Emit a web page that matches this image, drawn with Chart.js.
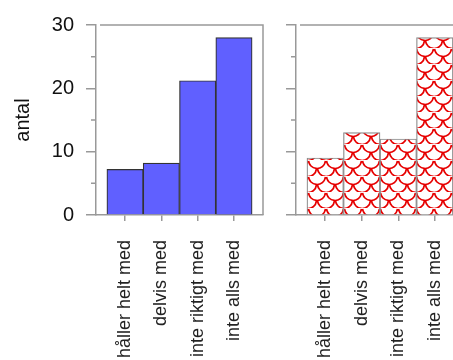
<!DOCTYPE html>
<html><head><meta charset="utf-8">
<script src="https://cdn.jsdelivr.net/npm/chart.js@4"></script>
<style>
html,body{margin:0;padding:0;background:#fff;overflow:hidden;width:453px;height:360px;}
#c1{position:absolute;left:0;top:0;}
#c2{position:absolute;left:200px;top:0;}
</style></head><body>
<canvas id="c1" width="280" height="360"></canvas>
<canvas id="c2" width="300" height="360"></canvas>
<script>
const categories = ['håller helt med', 'delvis med', 'inte riktigt med', 'inte alls med'];
const leftValues = [7.2, 8.2, 21.2, 28];
const rightValues = [9, 13, 12, 28];
const yMajorTicks = [0, 10, 20, 30];
const yMinorTicks = [5, 15, 25];
const yTitle = 'antal';

const FONT = "'Liberation Sans', Arial, Helvetica, sans-serif";
const AXIS = '#999';

function makePattern(){
  const t = document.createElement('canvas');
  t.width = 18; t.height = 16;
  const g = t.getContext('2d');
  g.fillStyle = '#fff'; g.fillRect(0,0,18,16);
  g.strokeStyle = '#e60000'; g.lineWidth = 1.7;
  const arcs = [[9,0],[0,8],[18,8],[9,16]];
  arcs.forEach(([cx,cy])=>{
    g.beginPath(); g.arc(cx, cy, 8.5, 0.1, Math.PI-0.1); g.stroke();
  });
  return t;
}

const framePlugin = {
  id:'frame',
  afterDraw(chart){
    const {ctx, chartArea:a} = chart;
    const y = chart.scales.y;
    ctx.save();
    ctx.strokeStyle = AXIS; ctx.lineWidth = 1.5;
    ctx.beginPath();
    ctx.moveTo(a.left + 4, a.top); ctx.lineTo(a.right, a.top); ctx.lineTo(a.right, a.bottom);
    ctx.stroke();
    ctx.beginPath();
    yMinorTicks.forEach(v=>{
      const py = y.getPixelForValue(v);
      ctx.moveTo(a.left - 5, py); ctx.lineTo(a.left, py);
    });
    ctx.stroke();
    ctx.restore();
  }
};

function makeConfig(values, bg, border, showY, rightPad){
  return {
    type:'bar',
    data:{ datasets:[{
      data: values.map((v,i)=>({x:i, y:v})),
      backgroundColor: bg, borderColor: border, borderWidth: 1.2,
      categoryPercentage:1, barPercentage:1
    }]},
    plugins:[framePlugin],
    options:{
      responsive:false, animation:false,
      layout:{padding:{top:25, right:rightPad, left:0, bottom:0}},
      plugins:{legend:{display:false}, tooltip:{enabled:false}},
      scales:{
        x:{
          type:'linear', min:-0.8, max:3.8, offset:false,
          afterBuildTicks: s => { s.ticks = categories.map((c,i)=>({value:i})); },
          afterFit: s => { s.height = 145; },
          ticks:{autoSkip:false, maxRotation:90, minRotation:90, padding:19,
                 font:{family:FONT, size:18}, color:'#222',
                 callback:(v)=>categories[v]},
          grid:{display:true, offset:false, drawOnChartArea:false, drawTicks:true, tickLength:6, color:AXIS, lineWidth:1.5},
          border:{display:true, color:AXIS, width:1.5}
        },
        y:{
          min:0, max:30,
          afterBuildTicks: s => { s.ticks = yMajorTicks.map(v=>({value:v})); },
          afterFit: s => { s.width = 96; },
          ticks:{display:showY, padding:12, font:{family:FONT, size:20}, color:'#111'},
          grid:{drawOnChartArea:false, drawTicks:true, tickLength:10, color:AXIS, lineWidth:1.5},
          border:{display:true, color:AXIS, width:1.5},
          title:{display:showY, text:yTitle, font:{family:FONT, size:20}, color:'#111', padding:{top:11, bottom:0}}
        }
      }
    }
  };
}

new Chart(document.getElementById('c1'), makeConfig(leftValues, '#6060ff', '#333', true, 17));
const ctx2 = document.getElementById('c2').getContext('2d');
const pat = ctx2.createPattern(makePattern(), 'repeat');
new Chart(document.getElementById('c2'), makeConfig(rightValues, pat, '#888', false, 36));
</script>
</body></html>
